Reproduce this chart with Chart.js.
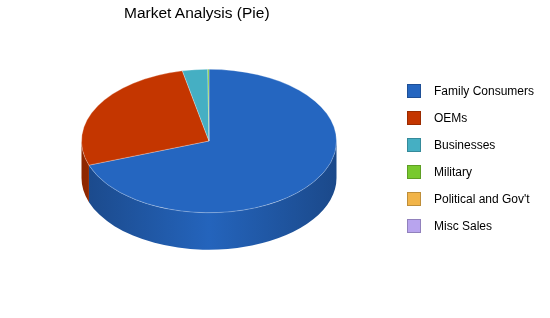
<!DOCTYPE html>
<html>
<head>
<meta charset="utf-8">
<script src="https://cdn.jsdelivr.net/npm/chart.js@4/dist/chart.umd.min.js"></script>
<style>
    html, body { margin: 0; padding: 0; background: #fff; }
    #wrap { position: relative; width: 550px; height: 318px; overflow: hidden; }
    #pie-chart { position: absolute; left: 0; top: 0; }
    #title {
        position: absolute; left: 124px; top: 4px;
        font: 15.5px "Liberation Sans", Arial, sans-serif; color: #000;
        white-space: nowrap;
    }
    #legend { position: absolute; left: 407px; top: 77px; }
    .legend-item {
        height: 27px; display: flex; align-items: center;
        font: 12px "Liberation Sans", Arial, sans-serif; color: #000;
        white-space: nowrap;
    }
    .legend-box { width: 12px; height: 12px; border: 1px solid; margin-right: 13px; }
</style>
</head>
<body>
<div id="wrap">
    <canvas id="pie-chart" width="550" height="318"></canvas>
    <div id="title">Market Analysis (Pie)</div>
    <div id="legend"></div>
</div>
<script>
// Chart data
const categories = ['Family Consumers', 'OEMs', 'Businesses', 'Military', "Political and Gov't", 'Misc Sales'];
const shares = [69.5, 27.1, 3.2, 0.15, 0, 0];

// Colours
const sliceColors = ['#2566C0', '#C43600', '#45AFC3', '#78C92E', '#F1B449', '#B8A4EE'];
const boxBorders = ['#1E4F96', '#9A2B00', '#358A9A', '#5E9E24', '#BE8E3A', '#9181BC'];

// 3D look
const TILT = 72 / 128;
const DEPTH = 37;

// Make a colour darker / lighter
function shade(hex, f) {
    const n = parseInt(hex.slice(1), 16);
    const r = Math.min(255, Math.round(((n >> 16) & 255) * f));
    const g = Math.min(255, Math.round(((n >> 8) & 255) * f));
    const b = Math.min(255, Math.round((n & 255) * f));
    return `rgb(${r}, ${g}, ${b})`;
}

// Plugin that squashes the pie and draws the side wall
const pie3d = {
    id: 'pie3d',
    beforeDatasetsDraw(chart) {
        const ctx = chart.ctx;
        const meta = chart.getDatasetMeta(0);
        const first = meta.data[0].getProps(['x', 'y', 'outerRadius'], true);
        const cx = first.x, cy = first.y, r = first.outerRadius;
        const d = DEPTH / TILT;

        ctx.save();
        ctx.translate(cx, cy);
        ctx.scale(1, TILT);
        ctx.translate(-cx, -cy);

        meta.data.forEach((arc, i) => {
            const p = arc.getProps(['startAngle', 'endAngle'], true);
            if (p.endAngle - p.startAngle <= 0) return;
            [0, 2 * Math.PI].forEach(off => {
                const a1 = Math.max(p.startAngle, off);
                const a2 = Math.min(p.endAngle, off + Math.PI);
                if (a2 <= a1) return;
                const base = sliceColors[i];
                const grad = ctx.createLinearGradient(cx - r, 0, cx + r, 0);
                grad.addColorStop(0, shade(base, 0.72));
                grad.addColorStop(0.5, shade(base, 0.98));
                grad.addColorStop(1, shade(base, 0.72));
                ctx.beginPath();
                ctx.arc(cx, cy, r, a1, a2);
                ctx.arc(cx, cy + d, r, a2, a1, true);
                ctx.closePath();
                ctx.fillStyle = grad;
                ctx.fill();
            });
        });
    },
    afterDatasetsDraw(chart) {
        chart.ctx.restore();
    }
};

function initChart() {
    const ctx = document.getElementById('pie-chart').getContext('2d');
    return new Chart(ctx, {
        type: 'pie',
        data: {
            labels: categories,
            datasets: [{
                data: shares,
                backgroundColor: sliceColors,
                borderColor: 'rgba(255, 255, 255, 0.35)',
                borderWidth: 1,
                clip: false
            }]
        },
        options: {
            responsive: false,
            animation: false,
            events: [],
            layout: {
                padding: { left: 81, right: 213, top: 13, bottom: 49 }
            },
            plugins: {
                legend: { display: false },
                title: { display: false },
                tooltip: { enabled: false }
            }
        },
        plugins: [pie3d]
    });
}

// Legend built from the same arrays
function buildLegend() {
    const legend = document.getElementById('legend');
    categories.forEach((name, i) => {
        const item = document.createElement('div');
        item.className = 'legend-item';
        const box = document.createElement('span');
        box.className = 'legend-box';
        box.style.background = sliceColors[i];
        box.style.borderColor = boxBorders[i];
        const label = document.createElement('span');
        label.textContent = name;
        item.appendChild(box);
        item.appendChild(label);
        legend.appendChild(item);
    });
}

buildLegend();
initChart();
</script>
</body>
</html>
